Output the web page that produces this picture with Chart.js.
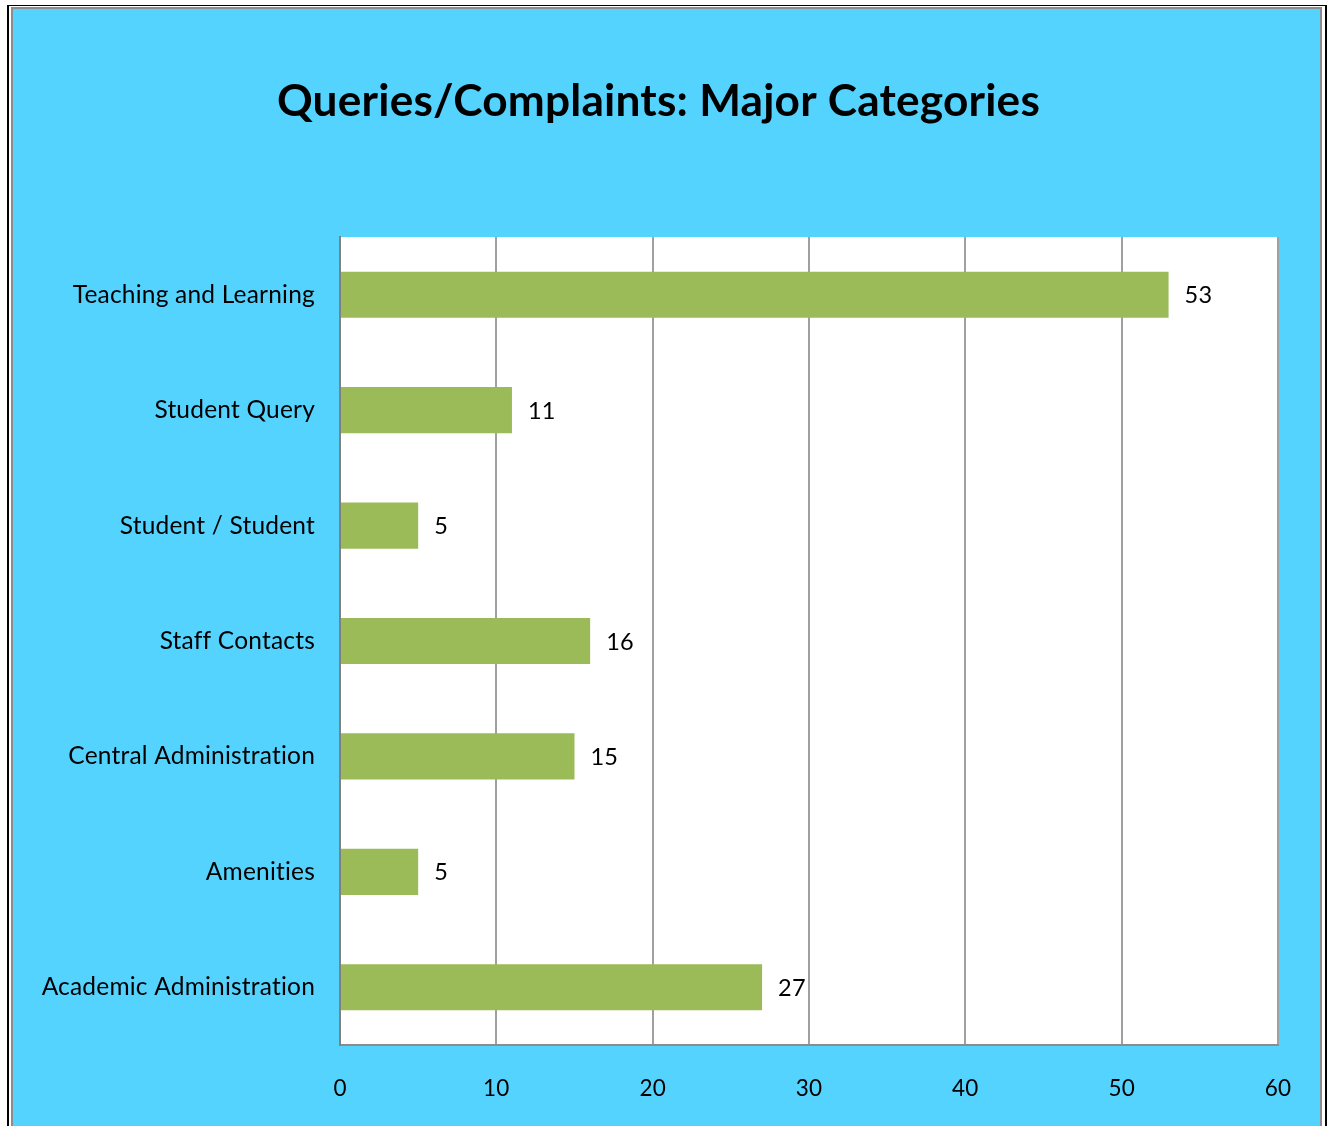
<!DOCTYPE html>
<html>
<head>
<meta charset="utf-8">
<script src="https://cdn.jsdelivr.net/npm/chart.js@4/dist/chart.umd.min.js"></script>
<style>
  html, body { margin: 0; padding: 0; background: #fff; width: 1333px; height: 1126px; overflow: hidden; }
  #frame { position: absolute; left: 7px; top: 5px; width: 1316px; height: 1130px;
           border-left: 2px solid #000; border-top: 1px solid #000; border-right: 2px solid #000; }
  #inner { position: absolute; left: 2px; top: 1px; width: 1307px; height: 1130px;
           border-left: 2px solid #8c8c8c; border-top: 2px solid #8c8c8c; border-right: 2px solid #8c8c8c;
           background: #55d3ff; }
  #wrap { position: absolute; left: 0; top: 0; width: 1307px; height: 1118px; }
</style>
</head>
<body>
<div id="frame"><div id="inner"><div id="wrap"><canvas id="chart"></canvas></div></div></div>
<script>
const categories = [
  "Teaching and Learning",
  "Student Query",
  "Student / Student",
  "Staff Contacts",
  "Central Administration",
  "Amenities",
  "Academic Administration"
];
const counts = [53, 11, 5, 16, 15, 5, 27];
const xTicks = [0, 10, 20, 30, 40, 50, 60];

const FONT = "Lato, 'Open Sans', sans-serif";

// small tracking, also stops the Lato "ti" ligature
// (set again before layout and draw, a canvas resize resets the context)
const textTracking = {
  id: "textTracking",
  beforeLayout(chart) { chart.ctx.letterSpacing = "0.2px"; },
  beforeDraw(chart) { chart.ctx.letterSpacing = "0.2px"; }
};

const plotBackground = {
  id: "plotBackground",
  beforeDraw(chart) {
    const { ctx, chartArea } = chart;
    ctx.save();
    ctx.fillStyle = "#ffffff";
    ctx.fillRect(chartArea.left, chartArea.top, chartArea.right - chartArea.left, chartArea.bottom - chartArea.top);
    ctx.restore();
  }
};

const valueLabels = {
  id: "valueLabels",
  afterDatasetsDraw(chart) {
    const { ctx } = chart;
    const meta = chart.getDatasetMeta(0);
    ctx.save();
    ctx.fillStyle = "#000";
    ctx.font = "23.5px " + FONT;
    ctx.textAlign = "left";
    ctx.textBaseline = "middle";
    meta.data.forEach((bar, i) => {
      ctx.fillText(String(counts[i]), bar.x + 16, bar.y + 1);
    });
    ctx.restore();
  }
};

new Chart(document.getElementById("chart"), {
  type: "bar",
  data: {
    labels: categories,
    datasets: [{
      data: counts,
      backgroundColor: "#9bbb59",
      categoryPercentage: 0.4,
      barPercentage: 1.0
    }]
  },
  options: {
    indexAxis: "y",
    responsive: true,
    maintainAspectRatio: false,
    animation: false,
    layout: { padding: { left: 0, right: 16, top: 0, bottom: 0 } },
    plugins: {
      legend: { display: false },
      tooltip: { enabled: false },
      title: {
        display: true,
        text: "Queries/Complaints: Major Categories",
        color: "#000",
        font: { family: FONT, size: 44.2, weight: "bold", lineHeight: 1.2 },
        padding: { top: 66, bottom: 109 }
      }
    },
    scales: {
      x: {
        min: 0,
        max: 60,
        afterBuildTicks(scale) { scale.ticks = xTicks.map(v => ({ value: v })); },
        afterFit(scale) { scale.height = 82; scale.paddingRight = 42; },
        grid: { color: "#a0a0a0", lineWidth: 2, drawTicks: false },
        border: { color: "#8c8c8c", width: 2 },
        ticks: { color: "#000", padding: 30, font: { family: FONT, size: 22.5 } }
      },
      y: {
        afterFit(scale) { scale.width = 327; },
        grid: { display: false, drawTicks: false },
        border: { color: "#808080", width: 2 },
        ticks: { color: "#000", padding: 25, font: { family: FONT, size: 24.5 } }
      }
    }
  },
  plugins: [textTracking, plotBackground, valueLabels]
});
</script>
</body>
</html>
